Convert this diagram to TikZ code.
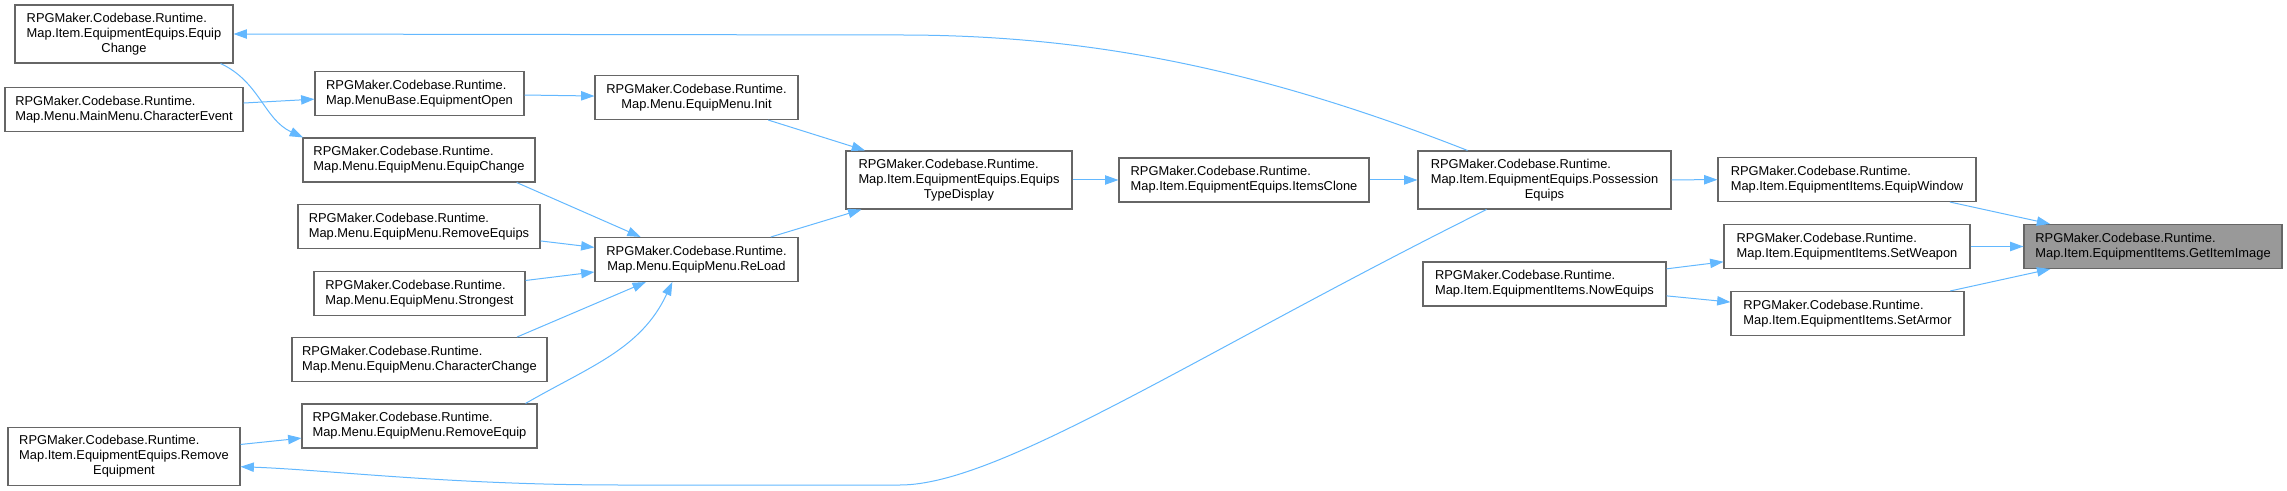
\documentclass[tikz,border=0pt]{standalone}
\usepackage{fontspec}
\setmainfont{Liberation Sans}
\usetikzlibrary{arrows.meta,calc}
\definecolor{edgeblue}{HTML}{63B8FF}
\definecolor{boxgray}{HTML}{666666}
\definecolor{fillgray}{HTML}{999999}
\newcommand{\fnlines}[1]{\vbox{\halign{##\hfil\cr#1\crcr}}}
\newcommand{\lastln}[1]{\omit\hfil#1\hfil}

\begin{document}
\begin{tikzpicture}[
  x=0.75pt, y=0.75pt,
  font=\fontsize{9.65}{11.25}\selectfont,
  >={Triangle[length=10pt,width=7pt]},
  fn/.style={rectangle, draw=boxgray, fill=white, line width=0.8pt,
             inner sep=0pt, minimum height=33pt},
  tall/.style={minimum height=43.5pt},
  wd/.style={minimum width=#1*0.75pt},
  self/.style={fill=fillgray},
  tr/.style={->, draw=edgeblue, line width=0.75pt},
]
\useasboundingbox (0,0) rectangle (2287,-491);

\node[fn, tall, wd=218] (eqchg)      at (124,-34)      {\fnlines{RPGMaker.Codebase.Runtime.\cr Map.Item.EquipmentEquips.Equip\cr\lastln{Change}}};
\node[fn, wd=238]       (charevt)    at (124,-109.5)   {\fnlines{RPGMaker.Codebase.Runtime.\cr\lastln{Map.Menu.MainMenu.CharacterEvent}}};
\node[fn, tall, wd=232] (remeqmt)    at (124,-456.5)   {\fnlines{RPGMaker.Codebase.Runtime.\cr Map.Item.EquipmentEquips.Remove\cr\lastln{Equipment}}};
\node[fn, wd=209]       (eqopen)     at (419.5,-93.5)  {\fnlines{RPGMaker.Codebase.Runtime.\cr\lastln{Map.MenuBase.EquipmentOpen}}};
\node[fn, wd=232]       (menuchg)    at (419,-160)     {\fnlines{RPGMaker.Codebase.Runtime.\cr\lastln{Map.Menu.EquipMenu.EquipChange}}};
\node[fn, wd=242]       (remequips)  at (419,-226.5)   {\fnlines{RPGMaker.Codebase.Runtime.\cr\lastln{Map.Menu.EquipMenu.RemoveEquips}}};
\node[fn, wd=211]       (strongest)  at (419.5,-293.5) {\fnlines{RPGMaker.Codebase.Runtime.\cr\lastln{Map.Menu.EquipMenu.Strongest}}};
\node[fn, wd=255]       (charchg)    at (419.5,-359.5) {\fnlines{RPGMaker.Codebase.Runtime.\cr\lastln{Map.Menu.EquipMenu.CharacterChange}}};
\node[fn, wd=235]       (remequip)   at (419.5,-426)   {\fnlines{RPGMaker.Codebase.Runtime.\cr\lastln{Map.Menu.EquipMenu.RemoveEquip}}};
\node[fn, wd=203]       (init)       at (696.5,-97.5)  {\fnlines{RPGMaker.Codebase.Runtime.\cr\lastln{Map.Menu.EquipMenu.Init}}};
\node[fn, wd=203]       (reload)     at (696.5,-259.5) {\fnlines{RPGMaker.Codebase.Runtime.\cr\lastln{Map.Menu.EquipMenu.ReLoad}}};
\node[fn, tall, wd=226] (typedisp)   at (959,-180)     {\fnlines{RPGMaker.Codebase.Runtime.\cr Map.Item.EquipmentEquips.Equips\cr\lastln{TypeDisplay}}};
\node[fn, wd=250]       (itemsclone) at (1244,-180)    {\fnlines{RPGMaker.Codebase.Runtime.\cr\lastln{Map.Item.EquipmentEquips.ItemsClone}}};
\node[fn, tall, wd=253] (possess)    at (1544.5,-180)  {\fnlines{RPGMaker.Codebase.Runtime.\cr Map.Item.EquipmentEquips.Possession\cr\lastln{Equips}}};
\node[fn, wd=243]       (nowequips)  at (1544.5,-284)  {\fnlines{RPGMaker.Codebase.Runtime.\cr\lastln{Map.Item.EquipmentItems.NowEquips}}};
\node[fn, wd=258]       (eqwindow)   at (1847,-179.5)  {\fnlines{RPGMaker.Codebase.Runtime.\cr\lastln{Map.Item.EquipmentItems.EquipWindow}}};
\node[fn, wd=246]       (setweapon)  at (1847,-246.5)  {\fnlines{RPGMaker.Codebase.Runtime.\cr\lastln{Map.Item.EquipmentItems.SetWeapon}}};
\node[fn, wd=233]       (setarmor)   at (1847.5,-313.5){\fnlines{RPGMaker.Codebase.Runtime.\cr\lastln{Map.Item.EquipmentItems.SetArmor}}};
\node[fn, self, wd=258] (getimage)   at (2153,-246.5)  {\fnlines{RPGMaker.Codebase.Runtime.\cr\lastln{Map.Item.EquipmentItems.GetItemImage}}};

\draw[tr] (eqwindow) -- (getimage);
\draw[tr] (setweapon) -- (getimage);
\draw[tr] (setarmor) -- (getimage);
\draw[tr] (possess) -- (eqwindow);
\draw[tr] (nowequips) -- (setweapon);
\draw[tr] (nowequips) -- (setarmor);
\draw[tr] (itemsclone) -- (possess);
\draw[tr] (typedisp) -- (itemsclone);
\draw[tr] (init) -- (typedisp);
\draw[tr] (reload) -- (typedisp);
\draw[tr] (eqopen) -- (init);
\draw[tr] (charevt) -- (eqopen);
\draw[tr] (menuchg.-13) -- (reload.158);
\draw[tr] (remequips) -- (reload);
\draw[tr] (strongest) -- (reload);
\draw[tr] (charchg.13) -- (reload.204);
\draw[tr] (remequip.12) to[out=30, in=-115] (reload.-137);
\draw[tr] (eqchg.-17) to[out=-25, in=155] (menuchg.169);
\draw[tr] (remeqmt) -- (remequip);
\draw[tr] (possess.159) .. controls (1250,-65) and (1080,-35) .. (900,-35) -- (eqchg.east);
\draw[tr] (possess.207) .. controls (1200,-352) and (1000,-485) .. (900,-485) -- (620,-485)
  .. controls (450,-485) and (330,-470) .. (remeqmt.-5);

\end{tikzpicture}
\end{document}
